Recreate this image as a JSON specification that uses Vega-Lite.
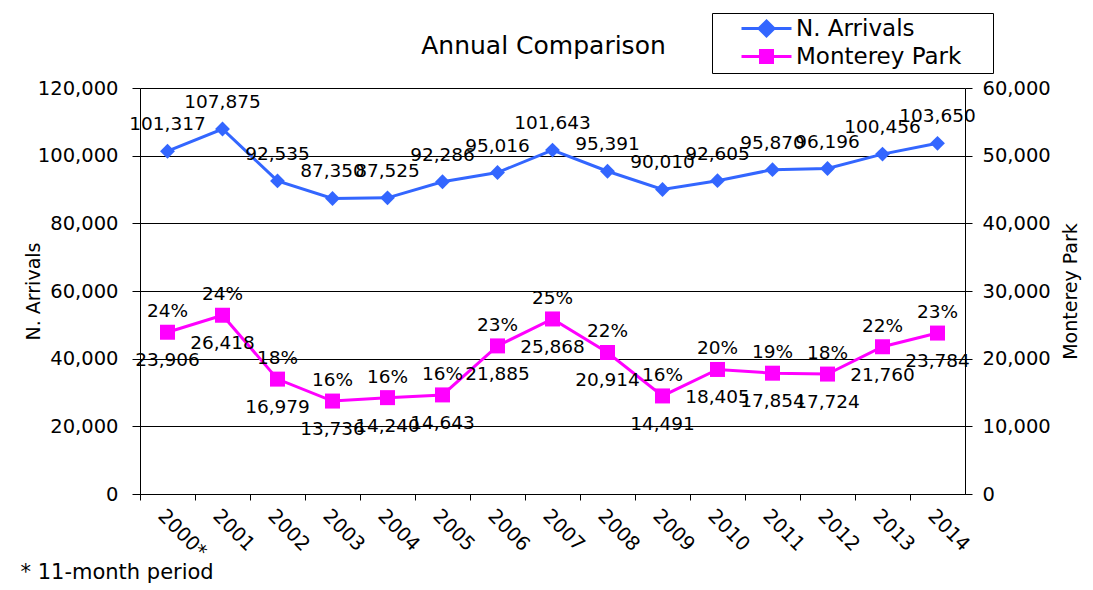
{
  "$schema": "https://vega.github.io/schema/vega-lite/v6.json",
  "width": 825,
  "height": 406,
  "autosize": {"type": "none"},
  "padding": {"left": 140, "top": 88, "right": 128, "bottom": 96},
  "background": "white",
  "config": {
    "font": "DejaVu Sans",
    "view": {"stroke": null},
    "axis": {
      "labelFont": "DejaVu Sans",
      "titleFont": "DejaVu Sans",
      "labelColor": "black",
      "titleColor": "black",
      "domainColor": "black",
      "tickColor": "black",
      "titleFontWeight": "normal"
    }
  },
  "title": {
    "text": "Annual Comparison",
    "fontSize": 25,
    "fontWeight": "normal",
    "font": "DejaVu Sans",
    "color": "black",
    "frame": "group",
    "anchor": "middle",
    "offset": -46,
    "dx": -9
  },
  "data": {
    "values": [
      {"year": "2000*", "series": "N. Arrivals", "value": 101317},
      {"year": "2001", "series": "N. Arrivals", "value": 107875},
      {"year": "2002", "series": "N. Arrivals", "value": 92535},
      {"year": "2003", "series": "N. Arrivals", "value": 87350},
      {"year": "2004", "series": "N. Arrivals", "value": 87525},
      {"year": "2005", "series": "N. Arrivals", "value": 92286},
      {"year": "2006", "series": "N. Arrivals", "value": 95016},
      {"year": "2007", "series": "N. Arrivals", "value": 101643},
      {"year": "2008", "series": "N. Arrivals", "value": 95391},
      {"year": "2009", "series": "N. Arrivals", "value": 90010},
      {"year": "2010", "series": "N. Arrivals", "value": 92605},
      {"year": "2011", "series": "N. Arrivals", "value": 95870},
      {"year": "2012", "series": "N. Arrivals", "value": 96196},
      {"year": "2013", "series": "N. Arrivals", "value": 100456},
      {"year": "2014", "series": "N. Arrivals", "value": 103650},
      {"year": "2000*", "series": "Monterey Park", "value": 23906, "pct": 0.24},
      {"year": "2001", "series": "Monterey Park", "value": 26418, "pct": 0.24},
      {"year": "2002", "series": "Monterey Park", "value": 16979, "pct": 0.18},
      {"year": "2003", "series": "Monterey Park", "value": 13736, "pct": 0.16},
      {"year": "2004", "series": "Monterey Park", "value": 14240, "pct": 0.16},
      {"year": "2005", "series": "Monterey Park", "value": 14643, "pct": 0.16},
      {"year": "2006", "series": "Monterey Park", "value": 21885, "pct": 0.23},
      {"year": "2007", "series": "Monterey Park", "value": 25868, "pct": 0.25},
      {"year": "2008", "series": "Monterey Park", "value": 20914, "pct": 0.22},
      {"year": "2009", "series": "Monterey Park", "value": 14491, "pct": 0.16},
      {"year": "2010", "series": "Monterey Park", "value": 18405, "pct": 0.20},
      {"year": "2011", "series": "Monterey Park", "value": 17854, "pct": 0.19},
      {"year": "2012", "series": "Monterey Park", "value": 17724, "pct": 0.18},
      {"year": "2013", "series": "Monterey Park", "value": 21760, "pct": 0.22},
      {"year": "2014", "series": "Monterey Park", "value": 23784, "pct": 0.23}
    ]
  },
  "layer": [
    {
      "transform": [{"filter": "datum.series === 'N. Arrivals'"}],
      "encoding": {
        "x": {
          "field": "year",
          "type": "ordinal",
          "sort": null,
          "scale": {"type": "band", "paddingInner": 0, "paddingOuter": 0},
          "axis": {
            "orient": "bottom",
            "ticks": false,
            "domain": true,
            "grid": false,
            "labelAngle": 45,
            "labelAlign": "left",
            "labelBaseline": "top",
            "labelFontSize": 19.5,
            "labelPadding": 12,
            "title": "* 11-month period",
            "titleFontSize": 21,
            "titleAlign": "left",
            "titleBaseline": "alphabetic",
            "titleX": -120,
            "titleY": 84
          }
        },
        "y": {
          "field": "value",
          "type": "quantitative",
          "scale": {"domain": [0, 120000], "nice": false},
          "axis": {
            "orient": "left",
            "values": [0, 20000, 40000, 60000, 80000, 100000, 120000],
            "format": ",d",
            "labelFontSize": 19.5,
            "tickSize": 8,
            "labelPadding": 14,
            "title": "N. Arrivals",
            "titleFontSize": 19,
            "titlePadding": -6,
            "grid": true,
            "gridColor": "black",
            "gridOpacity": 1,
            "gridWidth": 1
          }
        }
      },
      "layer": [
        {
          "mark": {"type": "line", "strokeWidth": 3},
          "encoding": {
            "color": {
              "field": "series",
              "type": "nominal",
              "scale": {"domain": ["N. Arrivals", "Monterey Park"], "range": ["#3366FF", "#FF00FF"]},
              "legend": {
                "title": null,
                "orient": "none",
                "legendX": 572,
                "legendY": -75,
                "direction": "vertical",
                "labelFontSize": 23,
                "labelFont": "DejaVu Sans",
                "labelColor": "black",
                "labelLimit": 400,
                "strokeColor": "black",
                "fillColor": "white",
                "padding": 4,
                "symbolSize": 400,
                "symbolStrokeWidth": 3,
                "symbolOffset": 39,
                "labelOffset": 18,
                "rowPadding": 2,
                "encode": {
                  "symbols": {
                    "update": {
                      "shape": {"signal": "datum.value === 'N. Arrivals' ? 'M21.6,0M-2.5,0L2.5,0M0,-0.75L0.75,0L0,0.75L-0.75,0Z' : 'M21.6,0M-2.5,0L2.5,0M-0.6,-0.6L0.6,-0.6L0.6,0.6L-0.6,0.6Z'"},
                      "fill": {"signal": "datum.value === 'N. Arrivals' ? '#3366FF' : '#FF00FF'"},
                      "stroke": {"signal": "datum.value === 'N. Arrivals' ? '#3366FF' : '#FF00FF'"},
                      "strokeWidth": {"value": 3},
                      "opacity": {"value": 1}
                    }
                  }
                }
              }
            }
          }
        },
        {"mark": {"type": "point", "shape": "diamond", "filled": true, "size": 220, "color": "#3366FF", "opacity": 1}},
        {
          "mark": {"type": "text", "dy": -27, "fontSize": 18.5, "color": "black", "baseline": "middle", "font": "DejaVu Sans"},
          "encoding": {"text": {"field": "value", "type": "quantitative", "format": ","}}
        }
      ]
    },
    {
      "transform": [{"filter": "datum.series === 'Monterey Park'"}],
      "encoding": {
        "x": {
          "field": "year",
          "type": "ordinal",
          "sort": null,
          "scale": {"type": "band", "paddingInner": 0, "paddingOuter": 0},
          "axis": {
            "orient": "bottom",
            "labels": false,
            "ticks": true,
            "tickSize": 6,
            "bandPosition": 0,
            "domain": true,
            "grid": false,
            "title": null
          }
        },
        "y": {
          "field": "value",
          "type": "quantitative",
          "scale": {"domain": [0, 60000], "nice": false},
          "axis": {
            "orient": "right",
            "values": [0, 10000, 20000, 30000, 40000, 50000, 60000],
            "format": ",d",
            "labelFontSize": 19.5,
            "tickSize": 7,
            "labelPadding": 10,
            "title": "Monterey Park",
            "titleFontSize": 19,
            "titleAngle": 270,
            "titleBaseline": "top",
            "titlePadding": 11,
            "grid": false
          }
        }
      },
      "layer": [
        {
          "mark": {"type": "line", "strokeWidth": 3},
          "encoding": {"color": {"field": "series", "type": "nominal"}}
        },
        {"mark": {"type": "point", "shape": "square", "filled": true, "size": 225, "color": "#FF00FF", "opacity": 1}},
        {
          "mark": {"type": "text", "dy": 28, "fontSize": 18.5, "color": "black", "baseline": "middle", "font": "DejaVu Sans"},
          "encoding": {"text": {"field": "value", "type": "quantitative", "format": ","}}
        },
        {
          "mark": {"type": "text", "dy": -21, "fontSize": 18.5, "color": "black", "baseline": "middle", "font": "DejaVu Sans"},
          "encoding": {"text": {"field": "pct", "type": "quantitative", "format": ".0%"}}
        }
      ]
    }
  ],
  "resolve": {"scale": {"y": "independent"}, "axis": {"x": "independent"}}
}
